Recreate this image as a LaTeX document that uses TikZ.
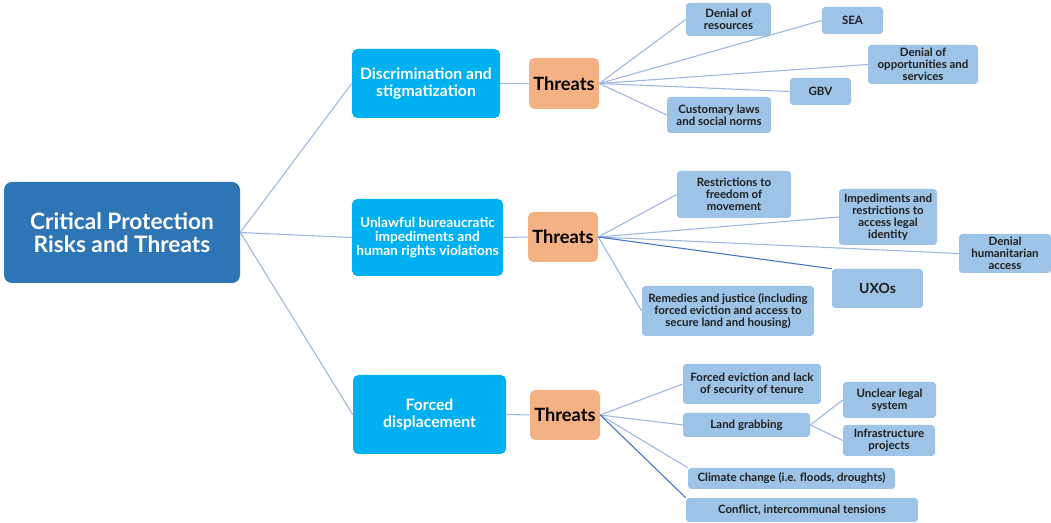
\documentclass[tikz,border=0pt]{standalone}
\usepackage{fontspec}
\setmainfont{Lato}
\definecolor{rootc}{HTML}{2E75B6}
\definecolor{catc}{HTML}{00B0F0}
\definecolor{thrc}{HTML}{F4B183}
\definecolor{leafc}{HTML}{9DC3E6}
\definecolor{linel}{HTML}{9DB7DE}
\definecolor{lined}{HTML}{4472C4}
\definecolor{txtd}{HTML}{1E1E1E}
\tikzset{
  sz/.style 2 args={minimum width=#1*0.75pt, minimum height=#2*0.75pt},
  base/.style={inner sep=0pt, align=center, font=\bfseries},
  rootbox/.style={base, fill=rootc, text=white, rounded corners=6pt, font=\fontsize{17}{17}\selectfont\bfseries},
  catbox/.style={base, fill=catc, text=white, rounded corners=4pt, font=\fontsize{11.8}{12.8}\selectfont\bfseries},
  thrbox/.style={base, fill=thrc, text=black, rounded corners=4pt, font=\fontsize{13.7}{15}\selectfont\bfseries},
  leafbox/.style={base, fill=leafc, text=txtd, rounded corners=2.5pt, font=\fontsize{8.6}{9}\selectfont\bfseries},
  conn/.style={draw=linel, line width=0.8pt},
  connd/.style={draw=lined, line width=0.8pt},
}
\begin{document}
\begin{tikzpicture}[x=0.75pt,y=-0.75pt]
\useasboundingbox[fill=white] (0,0) rectangle (1051,523);

\node[rootbox, sz={236}{101}] (root) at (122,232.5) {Critical Protection\\Risks and Threats};

\node[catbox, sz={148}{69}] (d1) at (426,83.5) {Discrimination and\\stigmatization};
\node[catbox, sz={151}{77}, font=\fontsize{10.3}{10.4}\selectfont\bfseries] (d2) at (427.5,237.5) {Unlawful bureaucratic\\impediments and\\human rights violations};
\node[catbox, sz={153}{79}] (d3) at (429.5,414.5) {Forced\\displacement};

\node[thrbox, sz={70}{51}] (t1) at (564,83.5) {Threats};
\node[thrbox, sz={70}{50}] (t2) at (563,237) {Threats};
\node[thrbox, sz={70}{50}] (t3) at (565,415) {Threats};

% top group
\node[leafbox, sz={85}{33}] (a1) at (728.5,19.5) {Denial of\\resources};
\node[leafbox, sz={61}{27}] (a2) at (852.5,20.5) {SEA};
\node[leafbox, sz={110}{39}] (a3) at (923,64.5) {Denial of\\opportunities and\\services};
\node[leafbox, sz={61}{27}] (a4) at (820.5,91.5) {GBV};
\node[leafbox, sz={104}{36}] (a5) at (719,115) {Customary laws\\and social norms};

% middle group
\node[leafbox, sz={114}{47}] (b1) at (734,194.5) {Restrictions to\\freedom of\\movement};
\node[leafbox, sz={98}{56}] (b2) at (888,217) {Impediments and\\restrictions to\\access legal\\identity};
\node[leafbox, sz={92}{39}] (b3) at (1005,253.5) {Denial\\humanitarian\\access};
\node[leafbox, sz={91}{39}, font=\fontsize{10.5}{12}\selectfont\bfseries] (b4) at (877.5,288.5) {UXOs};
\node[leafbox, sz={172}{50}] (b5) at (728,311) {Remedies and justice (including\\forced eviction and access to\\secure land and housing)};

% bottom group
\node[leafbox, sz={138}{40}] (c1) at (752,384) {Forced eviction and lack\\of security of tenure};
\node[leafbox, sz={127}{24}] (c2) at (746.5,425) {Land grabbing};
\node[leafbox, sz={93}{36}] (c3) at (889.5,400) {Unclear legal\\system};
\node[leafbox, sz={92}{31}] (c4) at (889,440.5) {Infrastructure\\projects};
\node[leafbox, sz={207}{21}] (c5) at (791.5,478.5) {Climate change (i.e. floods, droughts)};
\node[leafbox, sz={232}{24}] (c6) at (802,510) {Conflict, intercommunal tensions};

% connectors
\draw[conn] (root.east) -- (d1.west);
\draw[conn] (root.east) -- (d2.west);
\draw[conn] (root.east) -- (d3.west);
\draw[conn] (d1.east) -- (t1.west);
\draw[conn] (d2.east) -- (t2.west);
\draw[conn] (d3.east) -- (t3.west);

\foreach \n in {a1,a2,a3,a4,a5} \draw[conn] (t1.east) -- (\n.west);
\foreach \n in {b1,b2,b3,b5} \draw[conn] (t2.east) -- (\n.west);
\draw[connd] (t2.east) -- (b4.north west);
\draw[conn] (t3.east) -- (c1.west);
\draw[conn] (t3.east) -- (c2.west);
\draw[conn] (t3.east) -- (c5.north west);
\draw[connd] (t3.east) -- (c6.north west);
\draw[conn] (c2.east) -- (c3.west);
\draw[conn] (c2.east) -- (c4.west);
\end{tikzpicture}
\end{document}
